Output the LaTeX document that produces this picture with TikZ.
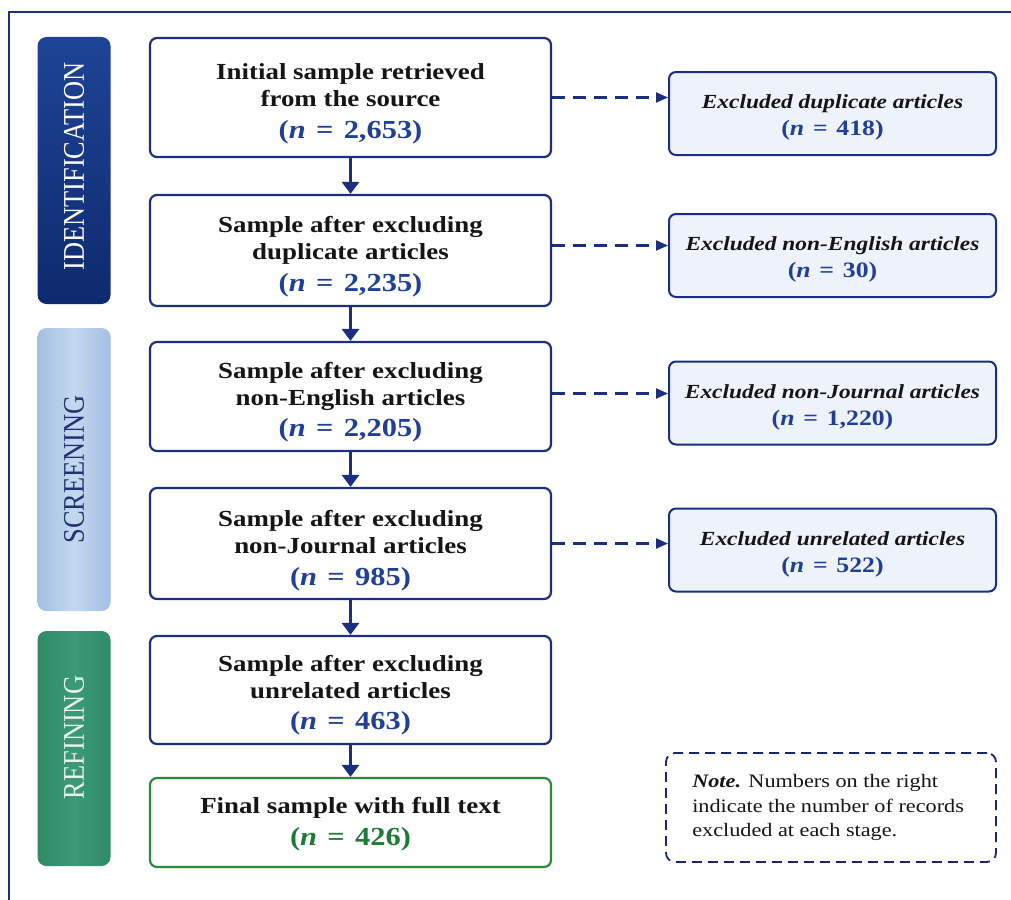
\documentclass[tikz,border=0pt]{standalone}
\usepackage{fontspec}
\setmainfont[FakeStretch=1.17]{Liberation Serif}
\newfontfamily\sidefont[FakeStretch=0.88]{Liberation Serif}
\usetikzlibrary{arrows.meta}
\definecolor{navy}{HTML}{1C2F7F}
\definecolor{numblue}{HTML}{1F3F99}
\definecolor{idtop}{HTML}{1E4496}
\definecolor{idbot}{HTML}{0E2A6E}
\definecolor{sctop}{HTML}{A3BFE2}
\definecolor{scmid}{HTML}{C4D8EF}
\definecolor{sctext}{HTML}{1F3570}
\definecolor{rftop}{HTML}{2F8A68}
\definecolor{rfmid}{HTML}{3C9A76}
\definecolor{rftext}{HTML}{E8F2EC}
\definecolor{gborder}{HTML}{2A8A3E}
\definecolor{gnum}{HTML}{1E7A36}
\definecolor{rfill}{HTML}{EEF2FA}
\definecolor{ink}{HTML}{151515}
\tikzset{
  mainbox/.style={draw=navy, line width=2.2pt, rounded corners=7pt, fill=white,
    minimum width=401pt, inner sep=0pt},
  mtext/.style={align=center, inner sep=0pt, text=ink,
    font=\bfseries\fontsize{23}{27}\selectfont},
  exbox/.style={draw=navy, line width=2pt, rounded corners=7pt, fill=rfill,
    minimum width=327pt, minimum height=83pt, inner sep=0pt},
  etext/.style={align=center, inner sep=0pt, text=ink,
    font=\bfseries\fontsize{20}{27}\selectfont},
  sidebar/.style={rounded corners=9pt, minimum width=73pt, inner sep=0pt},
  sidelabel/.style={rotate=90, font=\sidefont\fontsize{30}{30}\selectfont},
  flow/.style={draw=navy, line width=3.5pt, -{Triangle[length=12pt,width=17pt]}},
  dflow/.style={draw=navy, line width=2.2pt, dash pattern=on 13pt off 8pt,
    -{Triangle[length=12pt,width=10pt]}},
}
% #1 colour, #2 size, #3 number
\newcommand{\numtxt}[3][numblue]{{\color{#1}\fontsize{#2}{27}\selectfont(\textit{n}\hspace{0.4em}=\hspace{0.4em}#3)}}
\begin{document}
\begin{tikzpicture}[x=1pt,y=-1pt]
\useasboundingbox (0,0) rectangle (1011,899);
\clip (0,0) rectangle (1011,899);
\fill[white] (0,0) rectangle (1011,899);
\draw[navy, line width=2.5pt] (9,12) rectangle (1040,940);

% side bars
\node[sidebar, minimum height=267pt, top color=idtop, bottom color=idbot]
  (sid) at (74,170.5) {};
\node[sidelabel, text=white] (sidt) at ([yshift=4pt]sid.center) {IDENTIFICATION};
\node[sidebar, minimum height=283pt, left color=sctop, right color=sctop, middle color=scmid]
  (ssc) at (74,469.5) {};
\node[sidelabel, text=sctext] (ssct) at (ssc.center) {SCREENING};
\node[sidebar, minimum height=235pt, left color=rftop, right color=rftop, middle color=rfmid]
  (srf) at (74,748.5) {};
\node[sidelabel, text=rftext] (srft) at ([yshift=11pt]srf.center) {REFINING};

% main boxes
\node[mainbox, minimum height=119pt] (b1) at (350.5,97.5) {};
\node[mtext] (b1t) at ([yshift=-6pt]b1.center)
  {Initial sample retrieved\\from the source\\[5pt]\numtxt{26}{2,653}};
\node[mainbox, minimum height=111pt] (b2) at (350.5,250.5) {};
\node[mtext] (b2t) at ([yshift=-6pt]b2.center)
  {Sample after excluding\\duplicate articles\\[5pt]\numtxt{26}{2,235}};
\node[mainbox, minimum height=109pt] (b3) at (350.5,396.5) {};
\node[mtext] (b3t) at ([yshift=-5.5pt]b3.center)
  {Sample after excluding\\non-English articles\\[4pt]\numtxt{26}{2,205}};
\node[mainbox, minimum height=111pt] (b4) at (350.5,543.5) {};
\node[mtext] (b4t) at ([yshift=-7pt]b4.center)
  {Sample after excluding\\non-Journal articles\\[5pt]\numtxt{26}{985}};
\node[mainbox, minimum height=108pt] (b5) at (350.5,690) {};
\node[mtext] (b5t) at ([yshift=-5.5pt]b5.center)
  {Sample after excluding\\unrelated articles\\[4pt]\numtxt{26}{463}};
\node[mainbox, draw=gborder, minimum height=89pt] (b6) at (350.5,822.5) {};
\node[mtext] (b6t) at ([yshift=-2pt]b6.center)
  {Final sample with full text\\[5pt]\numtxt[gnum]{26}{426}};

% exclusion boxes
\node[exbox] (r1) at (832.5,113.5) {};
\node[etext] (r1t) at ([yshift=-4pt]r1.center) {\textit{Excluded duplicate articles}\\\numtxt{22}{418}};
\node[exbox] (r2) at (832.5,255.5) {};
\node[etext] (r2t) at ([yshift=-4pt]r2.center) {\textit{Excluded non-English articles}\\\numtxt{22}{30}};
\node[exbox] (r3) at (832.5,403) {};
\node[etext] (r3t) at ([yshift=-4pt]r3.center) {\textit{Excluded non-Journal articles}\\\numtxt{22}{1,220}};
\node[exbox] (r4) at (832.5,550) {};
\node[etext] (r4t) at ([yshift=-4pt]r4.center) {\textit{Excluded unrelated articles}\\\numtxt{22}{522}};

% note
\node[draw=navy!85!black, line width=1.8pt, dash pattern=on 10pt off 6pt, rounded corners=9pt,
  minimum width=330pt, minimum height=109pt, inner sep=0pt] (note) at (831,807.5) {};
\node[align=left, inner sep=0pt, text=ink, anchor=west,
  font=\fontsize{19}{24.5}\selectfont] (notet) at ([xshift=27pt]note.west)
  {\textbf{\textit{Note.}} Numbers on the right\\indicate the number of records\\excluded at each stage.};

% arrows
\draw[flow] (b1.south) -- (b2.north);
\draw[flow] (b2.south) -- (b3.north);
\draw[flow] (b3.south) -- (b4.north);
\draw[flow] (b4.south) -- (b5.north);
\draw[flow] (b5.south) -- (b6.north);
\draw[dflow] (b1.east) -- (b1.east -| r1.west);
\draw[dflow] ([yshift=5pt]b2.east) -- ([yshift=5pt]b2.east -| r2.west);
\draw[dflow] ([yshift=3pt]b3.east) -- ([yshift=3pt]b3.east -| r3.west);
\draw[dflow] (b4.east) -- (b4.east -| r4.west);
\end{tikzpicture}
\end{document}
